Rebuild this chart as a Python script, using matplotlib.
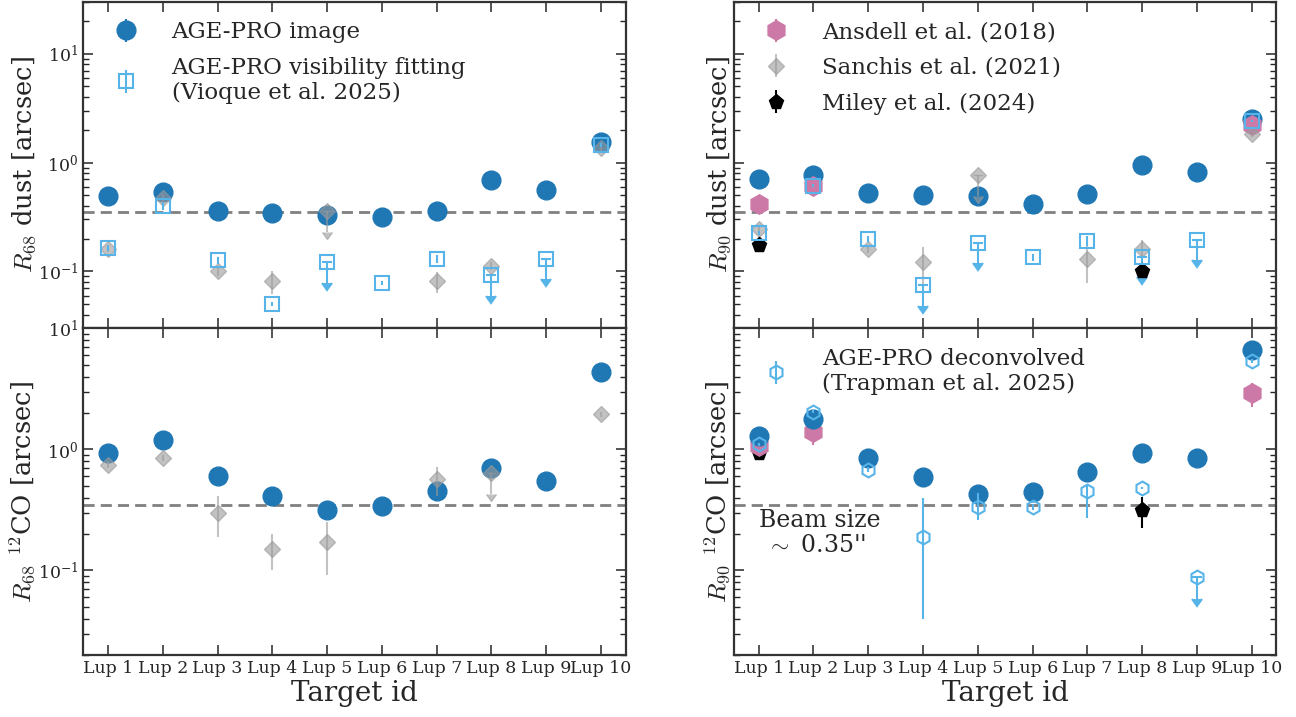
import numpy as np
import matplotlib
matplotlib.use("Agg")
import matplotlib.pyplot as plt

# ---------------- data ----------------
targets = ['Lup 1', 'Lup 2', 'Lup 3', 'Lup 4', 'Lup 5',
           'Lup 6', 'Lup 7', 'Lup 8', 'Lup 9', 'Lup 10']
nan = np.nan

# R68 dust
r68_dust_img = [0.49, 0.54, 0.357, 0.345, 0.327, 0.318, 0.355, 0.69, 0.565, 1.55]
r68_dust_img_err = [0.01, 0.01, 0.005, 0.005, 0.01, 0.005, 0.005, 0.01, 0.01, 0.03]
r68_dust_vis = [0.165, 0.40, 0.127, 0.0505, 0.122, 0.078, 0.13, 0.092, 0.13, 1.45]
r68_dust_vis_err = [0.01, 0.03, 0.01, 0.002, 0.043, 0.003, 0.01, 0.032, 0.045, 0.05]
r68_dust_vis_ul = [0, 0, 0, 0, 1, 0, 0, 1, 1, 0]
r68_dust_san = [0.16, 0.47, 0.10, 0.081, 0.357, nan, 0.081, 0.112, nan, 1.36]
r68_dust_san_err = [0.01, 0.04, 0.01, 0.019, 0.125, nan, 0.018, 0.01, nan, 0.08]
r68_dust_san_ul = [0, 0, 0, 0, 1, 0, 0, 0, 0, 0]

# R90 dust
r90_dust_img = [0.71, 0.765, 0.527, 0.508, 0.49, 0.42, 0.51, 0.94, 0.81, 2.53]
r90_dust_img_err = [0.01, 0.01, 0.01, 0.01, 0.01, 0.01, 0.01, 0.01, 0.01, 0.05]
r90_dust_vis = [0.226, 0.61, 0.20, 0.075, 0.183, 0.135, 0.192, 0.135, 0.196, 2.39]
r90_dust_vis_err = [0.01, 0.02, 0.012, 0.027, 0.064, 0.01, 0.02, 0.047, 0.069, 0.05]
r90_dust_vis_ul = [0, 0, 0, 1, 1, 0, 0, 1, 1, 0]
r90_dust_ans = [0.42, 0.61, nan, nan, nan, nan, nan, nan, nan, 2.2]
r90_dust_ans_err = [0.03, 0.03, nan, nan, nan, nan, nan, nan, nan, 0.1]
r90_dust_san = [0.243, nan, 0.161, 0.122, 0.765, nan, 0.131, 0.161, nan, 1.81]
r90_dust_san_err = [0.02, nan, 0.015, 0.045, 0.27, nan, 0.052, 0.035, nan, 0.1]
r90_dust_san_ul = [0, 0, 0, 0, 1, 0, 0, 0, 0, 0]
r90_dust_mil = [0.174, nan, nan, nan, nan, nan, nan, 0.10, nan, nan]
r90_dust_mil_err = [0.01, nan, nan, nan, nan, nan, nan, 0.02, nan, nan]

# R68 12CO
r68_co_img = [0.93, 1.19, 0.60, 0.41, 0.314, 0.341, 0.452, 0.70, 0.55, 4.32]
r68_co_img_err = [0.02, 0.02, 0.01, 0.01, 0.01, 0.01, 0.01, 0.02, 0.01, 0.05]
r68_co_san = [0.75, 0.853, 0.30, 0.15, 0.171, nan, 0.564, 0.64, nan, 1.95]
r68_co_san_err = [0.05, 0.05, 0.11, 0.05, 0.08, nan, 0.15, 0.21, nan, 0.1]
r68_co_san_ul = [0, 0, 0, 0, 0, 0, 0, 1, 0, 0]

# R90 12CO
r90_co_img = [1.29, 1.80, 0.853, 0.59, 0.43, 0.443, 0.65, 0.94, 0.853, 6.65]
r90_co_img_err = [0.02, 0.02, 0.01, 0.01, 0.01, 0.01, 0.01, 0.02, 0.01, 0.1]
r90_co_dec = [1.1, 2.05, 0.68, 0.19, 0.333, 0.333, 0.45, 0.48, 0.089, 5.4]
r90_co_dec_lo = [0.03, 0.05, 0.03, 0.15, 0.07, 0.02, 0.18, 0.01, 0.031, 0.2]
r90_co_dec_hi = [0.03, 0.05, 0.03, 0.21, 0.10, 0.02, 0.06, 0.01, 0.0, 0.2]
r90_co_dec_ul = [0, 0, 0, 0, 0, 0, 0, 0, 1, 0]
r90_co_ans = [1.07, 1.39, nan, nan, nan, nan, nan, nan, nan, 2.91]
r90_co_ans_err = [0.04, 0.3, nan, nan, nan, nan, nan, nan, nan, 0.65]
r90_co_mil = [0.94, nan, nan, nan, nan, nan, nan, 0.314, nan, nan]
r90_co_mil_err = [0.03, nan, nan, nan, nan, nan, nan, 0.09, nan, nan]

beam_size = 0.35

# ---------------- style ----------------
TXT = '#262626'
plt.rcParams.update({
    'font.family': 'serif',
    'font.serif': ['DejaVu Serif'],
    'mathtext.fontset': 'cm',
    'text.color': TXT,
    'axes.labelcolor': TXT,
    'xtick.color': TXT,
    'ytick.color': TXT,
    'axes.edgecolor': '#333333',
})

C_IMG = '#1f77b4'
C_VIS = '#56B4E9'
C_ANS = '#CC79A7'
C_SAN = '#9a9a9a'
C_MIL = 'black'

fig = plt.figure(figsize=(12.96, 7.17), dpi=100)
xl0, xw = 0.0643, 0.4185
xr0 = 0.5664
yt0, yh = 0.5421, 0.4555
yb0 = 0.0865
ax_tl = fig.add_axes([xl0, yt0, xw, yh])
ax_tr = fig.add_axes([xr0, yt0, xw, yh])
ax_bl = fig.add_axes([xl0, yb0, xw, yh])
ax_br = fig.add_axes([xr0, yb0, xw, yh])

xpos = np.arange(1, len(targets) + 1)


def series(ax, y, err, ul=None, label=None, zorder=3, alpha=1.0, **kw):
    y = np.asarray(y, float)
    if isinstance(err, tuple):
        lo = np.asarray(err[0], float)
        hi = np.asarray(err[1], float)
    else:
        lo = hi = np.asarray(err, float)
    ul = np.zeros(len(y), bool) if ul is None else np.asarray(ul, bool)
    ok = ~np.isnan(y)
    m = ok & ~ul
    h = ax.errorbar(xpos[m], y[m], yerr=[lo[m], hi[m]], fmt=kw.pop('fmt'),
                    label=label, zorder=zorder, alpha=alpha, capsize=0, **kw)
    mu = ok & ul
    if mu.any():
        ax.errorbar(xpos[mu], y[mu], yerr=lo[mu], uplims=True, fmt=h[0].get_marker(),
                    zorder=zorder, alpha=alpha, capsize=3.5, **kw)
    return h


img_kw = dict(fmt='o', color=C_IMG, ms=13.5, elinewidth=1.5)
vis_kw = dict(fmt='s', color=C_VIS, mfc='none', mec=C_VIS, ms=10, mew=1.5, elinewidth=1.5)
dec_kw = dict(fmt='h', color=C_VIS, mfc='none', mec=C_VIS, ms=10, mew=1.5, elinewidth=1.5)
san_kw = dict(fmt='D', color=C_SAN, ms=8.5, elinewidth=1.5)
ans_kw = dict(fmt='h', color=C_ANS, ms=14, elinewidth=1.5)
mil_kw = dict(fmt='p', color=C_MIL, ms=11, elinewidth=1.5)

# top-left
series(ax_tl, r68_dust_img, r68_dust_img_err, label='AGE-PRO image', zorder=2, **img_kw)
series(ax_tl, r68_dust_san, r68_dust_san_err, r68_dust_san_ul, zorder=3, alpha=0.6, **san_kw)
series(ax_tl, r68_dust_vis, r68_dust_vis_err, r68_dust_vis_ul,
       label='AGE-PRO visibility fitting\n(Vioque et al. 2025)', zorder=4, **vis_kw)

# top-right
series(ax_tr, r90_dust_img, r90_dust_img_err, zorder=2, **img_kw)
series(ax_tr, r90_dust_ans, r90_dust_ans_err, label='Ansdell et al. (2018)', zorder=3, **ans_kw)
series(ax_tr, r90_dust_san, r90_dust_san_err, r90_dust_san_ul,
       label='Sanchis et al. (2021)', zorder=3, alpha=0.6, **san_kw)
series(ax_tr, r90_dust_mil, r90_dust_mil_err, label='Miley et al. (2024)', zorder=4, **mil_kw)
series(ax_tr, r90_dust_vis, r90_dust_vis_err, r90_dust_vis_ul, zorder=4, **vis_kw)

# bottom-left
series(ax_bl, r68_co_img, r68_co_img_err, zorder=2, **img_kw)
series(ax_bl, r68_co_san, r68_co_san_err, r68_co_san_ul, zorder=3, alpha=0.6, **san_kw)

# bottom-right
series(ax_br, r90_co_mil, r90_co_mil_err, zorder=2, **mil_kw)
series(ax_br, r90_co_ans, r90_co_ans_err, zorder=2, **ans_kw)
series(ax_br, r90_co_img, r90_co_img_err, zorder=2, **img_kw)
series(ax_br, r90_co_dec, (r90_co_dec_lo, r90_co_dec_hi), r90_co_dec_ul,
       label='AGE-PRO deconvolved\n(Trapman et al. 2025)', zorder=4, **dec_kw)

ax_br.text(1.0, 0.205, "Beam size\n $\\sim$ 0.35''", ha='left', va='center',
           fontsize=17, linespacing=1.1)

for ax in (ax_tl, ax_tr, ax_bl, ax_br):
    ax.set_yscale('log')
    ax.axhline(beam_size, color='#808080', ls='--', lw=2, dashes=(4, 2.2), zorder=1)
    ax.set_xlim(0.55, 10.45)
    ax.set_xticks(xpos)
    ax.tick_params(which='both', direction='in', top=True, right=True)
    ax.tick_params(which='major', length=7, width=1.1)
    ax.tick_params(which='minor', length=4, width=1.0)
    ax.tick_params(axis='x', which='minor', bottom=False, top=False)
    for s in ax.spines.values():
        s.set_linewidth(1.6)

for ax in (ax_tl, ax_tr):
    ax.set_ylim(0.03, 30)
    ax.set_xticklabels([])
for ax in (ax_bl, ax_br):
    ax.set_ylim(0.02, 10)
    ax.set_xticklabels(targets, fontsize=12.5)
    ax.set_xlabel('Target id', fontsize=20, labelpad=2)
for ax in (ax_tr, ax_br):
    ax.tick_params(axis='y', which='both', labelleft=False)
for ax in (ax_tl, ax_bl):
    ax.tick_params(axis='y', which='major', labelsize=12.5)

ax_tl.set_ylabel('$R_{68}$ dust [arcsec]', fontsize=18.5, labelpad=0)
ax_bl.set_ylabel('$R_{68}$ $^{12}$CO [arcsec]', fontsize=18.5, labelpad=0)
ax_tr.set_ylabel('$R_{90}$ dust [arcsec]', fontsize=18.5, labelpad=1)
ax_br.set_ylabel('$R_{90}$ $^{12}$CO [arcsec]', fontsize=18.5, labelpad=1)

leg_kw = dict(loc='upper left', frameon=False, fontsize=16.5, handletextpad=1.0,
              borderaxespad=0.45, labelspacing=0.6)
ax_tl.legend(**leg_kw)
ax_tr.legend(**leg_kw)
ax_br.legend(**leg_kw)

fig.savefig('out.png', dpi=100)
